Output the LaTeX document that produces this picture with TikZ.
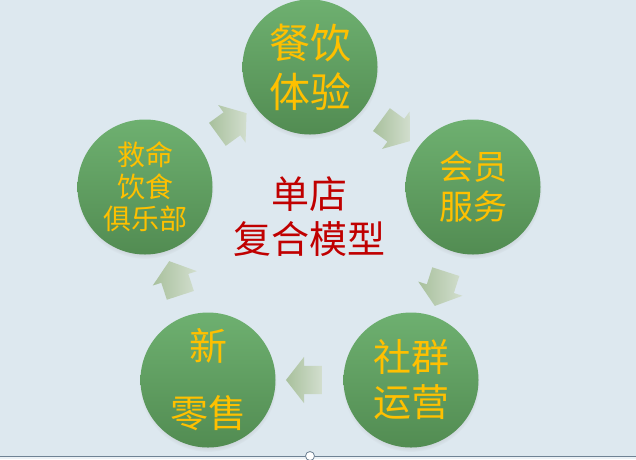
\documentclass[tikz,border=0pt]{standalone}
\usepackage{fontspec}
\newfontfamily\cjk{Noto Sans CJK SC}
\usetikzlibrary{shapes.arrows,shadows,calc}
\definecolor{bgc}{RGB}{221,232,239}
\definecolor{ctop}{RGB}{110,176,112}
\definecolor{cbot}{RGB}{82,140,82}
\definecolor{gold}{RGB}{255,192,0}
\definecolor{redt}{RGB}{192,0,0}
\definecolor{arrtail}{RGB}{168,192,156}
\definecolor{arrtip}{RGB}{210,222,206}
\definecolor{linec}{RGB}{110,130,148}
\tikzset{
  stage/.style={circle, minimum size=135pt, inner sep=0pt, top color=ctop, bottom color=cbot,
    text=gold, align=center,
    circular drop shadow={shadow xshift=0pt, shadow yshift=-3pt, opacity=0.35, shadow scale=1.02}},
  blockarr/.style={single arrow, inner xsep=0pt, inner ysep=14pt, minimum height=36pt,
    single arrow head extend=9pt, single arrow tip angle=104, draw=none,
    left color=arrtail, right color=arrtip},
  centertext/.style={align=center, font=\cjk\fontsize{38}{45}\selectfont}
}
\newcommand\cyclearrow[3]{%
  \path let \p1=($(#2)-(#1)$), \n1={atan2(\y1,\x1)} in
    node[blockarr, rotate=\n1] (#3) at ($(#1)!0.5!(#2)$) {};}
\begin{document}
\begin{tikzpicture}[x=1pt,y=-1pt]
\useasboundingbox (0,0) rectangle (636,459);
\fill[bgc] (0,0) rectangle (636,459);
\fill[bgc!60!white] (0,456) rectangle (636,459);

\node[stage, font=\cjk\fontsize{41}{49}\selectfont] (cy) at (310,67) {餐饮\\体验};
\node[stage, font=\cjk\fontsize{34}{40}\selectfont] (hy) at (473,187) {会员\\服务};
\node[stage, font=\cjk\fontsize{38}{45}\selectfont] (sq) at (411,380) {社群\\运营};
\node[stage, font=\cjk\fontsize{38}{67}\selectfont] (ls) at (208,380) {新\\零售};
\node[stage, font=\cjk\fontsize{28}{32}\selectfont] (jm) at (145,187) {救命\\饮食\\俱乐部};

\cyclearrow{cy}{hy}{a1}
\cyclearrow{hy}{sq}{a2}
\cyclearrow{sq}{ls}{a3}
\cyclearrow{ls}{jm}{a4}
\cyclearrow{jm}{cy}{a5}

\node[centertext, text=redt] (core) at (309,217) {单店\\复合模型};

\draw[linec, line width=1pt] (0,456) -- (636,456);
\node[circle, draw=linec, fill=white, line width=0.8pt, minimum size=9pt, inner sep=0pt] (handle) at (310,456) {};
\end{tikzpicture}
\end{document}
